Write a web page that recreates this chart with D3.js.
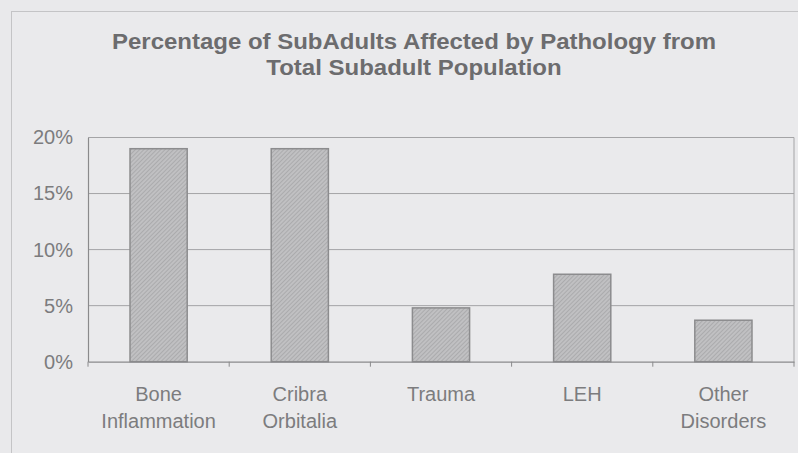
<!DOCTYPE html>
<html>
<head>
<meta charset="utf-8">
<script src="https://cdn.jsdelivr.net/npm/d3@7"></script>
<style>
  html, body { margin: 0; padding: 0; background: #e9e9eb; }
  svg { display: block; }
</style>
</head>
<body>
<svg id="chart" width="798" height="453"></svg>
<script>
const titleLines = ["Percentage of SubAdults Affected by Pathology from", "Total Subadult Population"];
const categories = ["Bone Inflammation", "Cribra Orbitalia", "Trauma", "LEH", "Other Disorders"];
const categoryLines = [["Bone", "Inflammation"], ["Cribra", "Orbitalia"], ["Trauma"], ["LEH"], ["Other", "Disorders"]];
const values = [0.19, 0.19, 0.048, 0.078, 0.037];
const yTicks = [0, 0.05, 0.10, 0.15, 0.20];

const W = 798, H = 453;
const plot = { left: 88, right: 794, top: 137.5, bottom: 361.7 };

const svg = d3.select("#chart");
svg.append("rect").attr("width", W).attr("height", H).attr("fill", "#e9e9eb");

// outer chart frame (extends beyond the visible area)
svg.append("rect")
  .attr("x", 11.5).attr("y", 11.5).attr("width", 830).attr("height", 470)
  .attr("fill", "#eaeaec").attr("stroke", "#c4c4c6").attr("stroke-width", 1);

// hatch pattern
const defs = svg.append("defs");
const pat = defs.append("pattern")
  .attr("id", "hatch").attr("patternUnits", "userSpaceOnUse")
  .attr("width", 3).attr("height", 3)
  .attr("patternTransform", "rotate(45)");
pat.append("rect").attr("width", 3).attr("height", 3).attr("fill", "#c0c0c2");
pat.append("line").attr("x1", 0).attr("y1", 0).attr("x2", 0).attr("y2", 3)
  .attr("stroke", "#a2a2a4").attr("stroke-width", 1.4);

const x = d3.scaleBand().domain(categories).range([plot.left, plot.right])
  .paddingInner(0.595).paddingOuter(0.2975);
const y = d3.scaleLinear().domain([0, 0.2]).range([plot.bottom, plot.top]);

// gridlines
svg.append("g").selectAll("line").data(yTicks.filter(d => d > 0)).join("line")
  .attr("x1", plot.left).attr("x2", plot.right)
  .attr("y1", d => y(d)).attr("y2", d => y(d))
  .attr("stroke", "#a4a4a6").attr("stroke-width", 1);

// right border of plot
svg.append("line").attr("x1", plot.right).attr("x2", plot.right)
  .attr("y1", plot.top).attr("y2", plot.bottom)
  .attr("stroke", "#a4a4a6").attr("stroke-width", 1);

// bars
svg.append("g").selectAll("rect").data(categories).join("rect")
  .attr("x", d => x(d)).attr("width", x.bandwidth())
  .attr("y", (d, i) => y(values[i]))
  .attr("height", (d, i) => y(0) - y(values[i]))
  .attr("fill", "url(#hatch)")
  .attr("stroke", "#8c8c8e").attr("stroke-width", 1.5);

// y axis
const yAxis = d3.axisLeft(y).tickValues(yTicks).tickFormat(d3.format(".0%")).tickSize(0).tickPadding(15);
const gy = svg.append("g").attr("transform", `translate(${plot.left},0)`).call(yAxis);
gy.select(".domain").attr("stroke", "#8a8a8c").attr("stroke-width", 1.2);
gy.selectAll("text").attr("font-family", "Liberation Sans, Arial, sans-serif")
  .attr("font-size", 20).attr("fill", "#7c7c7e");

// x axis
const xAxis = d3.axisBottom(x).tickSize(0).tickFormat("");
const gx = svg.append("g").attr("transform", `translate(0,${plot.bottom})`).call(xAxis);
gx.select(".domain").attr("stroke", "#8a8a8c").attr("stroke-width", 1.2);
gx.selectAll(".tick").remove();
// category boundary tick marks
const bounds = d3.range(categories.length + 1).map(i => plot.left + i * x.step());
gx.selectAll(".sep").data(bounds).join("line").attr("class", "sep")
  .attr("x1", d => d).attr("x2", d => d).attr("y1", 0).attr("y2", 5)
  .attr("stroke", "#8a8a8c").attr("stroke-width", 1);

// category labels
const lab = svg.append("g").selectAll("text").data(categories).join("text")
  .attr("text-anchor", "middle")
  .attr("font-family", "Liberation Sans, Arial, sans-serif")
  .attr("font-size", 20).attr("fill", "#7c7c7e");
lab.each(function(d, i) {
  const t = d3.select(this);
  categoryLines[i].forEach((ln, j) => {
    t.append("tspan").attr("x", x(d) + x.bandwidth() / 2)
      .attr("y", plot.bottom + 39 + j * 27).text(ln);
  });
});

// title
const titleStretch = 1.09;
svg.append("g").selectAll("text").data(titleLines).join("text")
  .attr("x", 414).attr("y", (d, i) => 49 + i * 25.5)
  .attr("text-anchor", "middle")
  .attr("font-family", "Liberation Sans, Arial, sans-serif")
  .attr("font-weight", "bold").attr("font-size", 22)
  .attr("fill", "#6c6c6e")
  .text(d => d)
  .each(function() {
    const len = this.getComputedTextLength();
    d3.select(this).attr("textLength", len * titleStretch).attr("lengthAdjust", "spacingAndGlyphs");
  });
</script>
</body>
</html>
